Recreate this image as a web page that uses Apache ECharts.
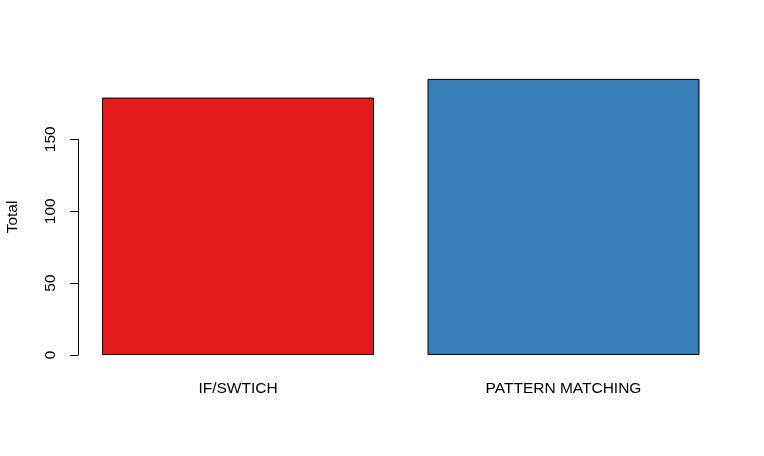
<!DOCTYPE html>
<html>
<head>
<meta charset="utf-8">
<script src="https://cdn.jsdelivr.net/npm/echarts@6/dist/echarts.min.js"></script>
<style>html,body{margin:0;padding:0;background:#fff}#c{width:764px;height:456px}</style>
</head>
<body>
<div id="c"></div>
<script>
var categories = ['IF/SWTICH', 'PATTERN MATCHING'];
var totals = [179, 192];
var barColors = ['#E41A1C', '#377EB8'];
var yTicks = [0, 50, 100, 150];
var yName = 'Total';

var font = '"Liberation Sans", Arial, sans-serif';
var chart = echarts.init(document.getElementById('c'), null, {renderer: 'canvas'});
chart.setOption({
  animation: false,
  backgroundColor: '#ffffff',
  grid: [
    {left: 75.25, width: 651, top: 67.4, height: 299.1, outerBoundsMode: 'none', containLabel: false},
    {left: 78, width: 646, top: 139.3, height: 215.7, outerBoundsMode: 'none', containLabel: false}
  ],
  xAxis: [
    {type: 'category', gridIndex: 0, data: categories,
     axisLine: {show: false, onZero: false}, axisTick: {show: false},
     axisLabel: {color: '#000', fontFamily: font, fontSize: 15.5, margin: 14}},
    {type: 'category', gridIndex: 1, data: categories, show: false}
  ],
  yAxis: [
    {type: 'value', gridIndex: 0, min: -8, max: 200,
     axisLine: {show: false}, axisTick: {show: false}, axisLabel: {show: false},
     splitLine: {show: false},
     name: yName, nameLocation: 'middle', nameRotate: 90, nameGap: 55,
     nameTextStyle: {color: '#000', fontFamily: font, fontSize: 15.5}},
    {type: 'value', gridIndex: 1, min: yTicks[0], max: yTicks[yTicks.length - 1],
     interval: yTicks[1] - yTicks[0],
     axisLine: {show: true, lineStyle: {color: '#000', width: 1}},
     axisTick: {show: true, length: 8, lineStyle: {color: '#000', width: 1}},
     axisLabel: {rotate: 90, color: '#000', fontFamily: font, fontSize: 15.5, margin: 19},
     splitLine: {show: false}}
  ],
  series: [{
    type: 'bar', xAxisIndex: 0, yAxisIndex: 0, barWidth: 272,
    data: totals.map(function (v, i) {
      return {value: v, itemStyle: {color: barColors[i], borderColor: '#000', borderWidth: 1}};
    })
  }]
});
</script>
</body>
</html>
